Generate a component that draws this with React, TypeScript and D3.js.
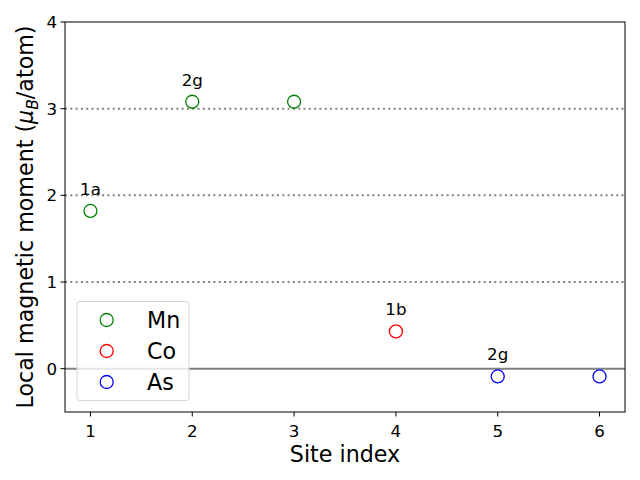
import React from 'react';
import * as d3 from 'd3';

// site data
const siteIndex = [1, 2, 3, 4, 5, 6];
const moments = [1.82, 3.08, 3.08, 0.43, -0.09, -0.09];
const species = ['Mn', 'Mn', 'Mn', 'Co', 'As', 'As'];
const siteLabels = ['1a', '2g', '', '1b', '2g', ''];
const legendNames = ['Mn', 'Co', 'As'];
const legendColors = ['green', 'red', 'blue'];
const xTicks = [1, 2, 3, 4, 5, 6];
const yTicks = [0, 1, 2, 3, 4];
const gridLevels = [1, 2, 3];

const W = 640;
const H = 480;
const margin = { left: 65, right: 15, top: 22, bottom: 68 };

const App: React.FC = () => {
  const x = d3.scaleLinear().domain([0.75, 6.25]).range([margin.left, W - margin.right]);
  const y = d3.scaleLinear().domain([-0.5, 4]).range([H - margin.bottom, margin.top]);
  const color = d3.scaleOrdinal<string, string>().domain(legendNames).range(legendColors);
  const font = 'DejaVu Sans, sans-serif';

  return (
    <svg width={W} height={H} style={{ display: 'block', position: 'absolute', left: 0, top: 0, background: '#fff' }} fontFamily={font}>
      <rect width={W} height={H} fill="#fff" />
      {gridLevels.map(g => (
        <line key={g} x1={margin.left} x2={W - margin.right} y1={y(g)} y2={y(g)}
          stroke="#808080" strokeWidth={2} strokeDasharray="2,3.3" />
      ))}
      <line x1={margin.left} x2={W - margin.right} y1={y(0)} y2={y(0)} stroke="#808080" strokeWidth={2} />

      {siteIndex.map((s, i) => (
        <circle key={s} cx={x(s)} cy={y(moments[i])} r={6.5} fill="none"
          stroke={color(species[i])} strokeWidth={1.3} />
      ))}
      {siteIndex.map((s, i) => siteLabels[i] ? (
        <text key={'l' + s} x={x(s)} y={y(moments[i]) - 16} textAnchor="middle" fontSize={16.7}>{siteLabels[i]}</text>
      ) : null)}

      {/* axes frame */}
      <rect x={margin.left} y={margin.top} width={W - margin.left - margin.right}
        height={H - margin.top - margin.bottom} fill="none" stroke="#000" strokeWidth={1} />

      {xTicks.map(t => (
        <g key={'x' + t}>
          <line x1={x(t)} x2={x(t)} y1={H - margin.bottom} y2={H - margin.bottom + 4.5} stroke="#000" />
          <text x={x(t)} y={H - margin.bottom + 25} textAnchor="middle" fontSize={16.7}>{t}</text>
        </g>
      ))}
      {yTicks.map(t => (
        <g key={'y' + t}>
          <line x1={margin.left - 4.5} x2={margin.left} y1={y(t)} y2={y(t)} stroke="#000" />
          <text x={margin.left - 8} y={y(t) + 6} textAnchor="end" fontSize={16.7}>{t}</text>
        </g>
      ))}

      <text x={(margin.left + W - margin.right) / 2} y={462} textAnchor="middle" fontSize={22.2}>Site index</text>
      <text transform={`translate(33,${(margin.top + H - margin.bottom) / 2}) rotate(-90)`} textAnchor="middle" fontSize={22.2}>
        Local magnetic moment (<tspan fontStyle="italic">μ</tspan><tspan fontStyle="italic" fontSize={15.5} dy={5}>B</tspan><tspan dy={-5}>/atom)</tspan>
      </text>

      {/* legend */}
      <g>
        <rect x={77} y={301.5} width={112} height={99} rx={3} fill="#fff" fillOpacity={0.8} stroke="#d5d5d5" />
        {legendNames.map((n, i) => (
          <g key={n}>
            <circle cx={106.7} cy={320 + i * 31} r={6.5} fill="none" stroke={color(n)} strokeWidth={1.3} />
            <text x={147} y={320 + i * 31 + 8} fontSize={22.2}>{n}</text>
          </g>
        ))}
      </g>
    </svg>
  );
};

export default App;
